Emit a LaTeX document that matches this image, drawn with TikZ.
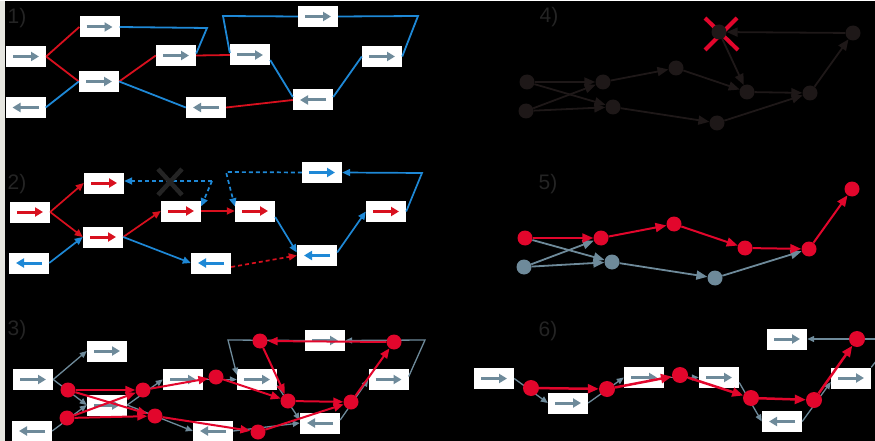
\documentclass[tikz,border=0pt]{standalone}
\usepackage{fontspec}
\setmainfont{Liberation Sans}
\usetikzlibrary{arrows.meta}
\definecolor{bl}{HTML}{1E88D6}
\definecolor{rd}{HTML}{D8101E}
\definecolor{gy}{HTML}{6E8A9A}
\definecolor{cr}{HTML}{E2062C}
\definecolor{dk}{HTML}{1E1818}
\definecolor{lbl}{HTML}{242424}
\definecolor{strip}{HTML}{E6E6E0}
\tikzset{
  box/.style={rectangle, fill=white, minimum width=40pt, minimum height=21pt, inner sep=0pt},
  inarrow/.style={line width=3pt, -{Triangle[length=8pt,width=9pt]}, #1},
  bxr/.style={box, path picture={\draw[inarrow=#1] ([xshift=-13pt]path picture bounding box.center) -- ([xshift=13pt]path picture bounding box.center);}},
  bxl/.style={box, path picture={\draw[inarrow=#1] ([xshift=13pt]path picture bounding box.center) -- ([xshift=-13pt]path picture bounding box.center);}},
  lone/.style={line width=1.8pt},
  ltwo/.style={line width=1.7pt, -{Triangle[length=8pt,width=7pt]}},
  dashedline/.style={dash pattern=on 4pt off 3pt},
  lgray/.style={line width=1.3pt, gy, -{Triangle[length=7pt,width=6pt]}},
  lred/.style={line width=2pt, cr, -{Triangle[length=10pt,width=8pt]}},
  ldark/.style={line width=1.8pt, dk, -{Triangle[length=11pt,width=9pt]}},
  dot/.style={circle, inner sep=0pt, minimum size=15pt, fill=#1},
  plabel/.style={text=lbl, font=\fontsize{21}{21}\selectfont, inner sep=0pt}
}
\begin{document}
\begin{tikzpicture}[x=1pt,y=-1pt]
\useasboundingbox (0,0) rectangle (875,441);
\fill[black] (0,0) rectangle (875,441);
\fill[strip] (0,0) rectangle (5,441);
\fill[white] (0,0) rectangle (875,1.5);

% ---------------- panel labels
\node[plabel] (L1) at (17,18) {1)};
\node[plabel] (L2) at (17,184) {2)};
\node[plabel] (L3) at (17,330) {3)};
\node[plabel] (L4) at (549,17) {4)};
\node[plabel] (L5) at (548,184) {5)};
\node[plabel] (L6) at (548,331) {6)};

% ---------------- panel 1
\node[bxr=gy] (A1) at (26,56.5) {};
\node[bxl=gy] (B1) at (25.5,107.5) {};
\node[bxr=gy] (C1) at (99.5,27) {};
\node[bxr=gy] (D1) at (99,81.5) {};
\node[bxr=gy] (E1) at (176,55.5) {};
\node[bxl=gy] (F1) at (206,107.5) {};
\node[bxr=gy] (G1) at (250,55) {};
\node[bxr=gy] (H1) at (318,16.5) {};
\node[bxl=gy] (I1) at (313,100) {};
\node[bxr=gy] (J1) at (382,56.5) {};
\coordinate (c1a) at (207,28);
\coordinate (c1b) at (223,16);
\coordinate (c1c) at (418,16);
\draw[lone,rd] (A1.east) -- (C1.west);
\draw[lone,rd] (A1.east) -- (D1.west);
\draw[lone,rd] (D1.east) -- (E1.west);
\draw[lone,rd] (E1.east) -- (G1.west);
\draw[lone,rd] (F1.east) -- (I1.west);
\draw[lone,bl] (B1.east) -- (D1.west);
\draw[lone,bl] (C1.east) -- (c1a) -- ([yshift=2pt]E1.east);
\draw[lone,bl] (D1.east) -- (F1.west);
\draw[lone,bl] ([yshift=2pt]G1.west) -- (c1b) -- (H1.west);
\draw[lone,bl] (H1.east) -- (c1c) -- (J1.east);
\draw[lone,bl] ([yshift=-5pt]G1.east) -- ([yshift=3pt]I1.west);
\draw[lone,bl] ([yshift=3pt]I1.east) -- (J1.west);

% ---------------- panel 2
\node[bxr=rd] (A2) at (30,212) {};
\node[bxl=bl] (B2) at (29,263) {};
\node[bxr=rd] (C2) at (104,183) {};
\node[bxr=rd] (D2) at (103,237) {};
\node[bxr=rd] (E2) at (181,211) {};
\node[bxl=bl] (F2) at (211,263) {};
\node[bxr=rd] (G2) at (255,211) {};
\node[bxr=bl] (H2) at (322,172.5) {};
\node[bxl=bl] (I2) at (317,255.5) {};
\node[bxr=rd] (J2) at (386,211.5) {};
\coordinate (c2a) at (422,173);
\coordinate (c2b) at (226,172);
\coordinate (c2c) at (212,181);
\draw[ltwo,rd] (A2.east) -- (C2.west);
\draw[ltwo,rd] (A2.east) -- (D2.west);
\draw[ltwo,bl] (B2.east) -- (D2.west);
\draw[ltwo,rd] (D2.east) -- (E2.west);
\draw[ltwo,bl] (D2.east) -- (F2.west);
\draw[ltwo,rd] (E2.east) -- (G2.west);
\draw[ltwo,rd,dashedline] ([yshift=-4pt]F2.east) -- (I2.west);
\draw[ltwo,bl] ([yshift=-6pt]G2.east) -- ([yshift=3pt]I2.west);
\draw[ltwo,bl] ([yshift=3pt]I2.east) -- (J2.west);
\draw[ltwo,bl] (J2.east) -- (c2a) -- (H2.east);
\draw[ltwo,bl,dashedline] (H2.west) -- (c2b) -- ([yshift=-6pt]G2.north west);
\draw[ltwo,bl,dashedline] (c2c) -- ([yshift=2pt]C2.east);
\draw[ltwo,bl,dashedline] (c2c) -- ([yshift=-6pt]E2.north east);
\draw[line width=4.5pt, lbl] (158,169) -- (182,195) (182,169) -- (158,195);

% ---------------- panel 3
\node[bxr=gy] (A3) at (33,379.5) {};
\node[bxl=gy] (B3) at (32,431) {};
\node[bxr=gy] (C3) at (107,351) {};
\node[bxr=gy] (D3) at (107,405) {};
\node[bxr=gy] (E3) at (183,379.5) {};
\node[bxl=gy] (F3) at (213,431) {};
\node[bxr=gy] (G3) at (257,379.5) {};
\node[bxr=gy] (H3) at (325,340.5) {};
\node[bxl=gy] (I3) at (320,423) {};
\node[bxr=gy] (J3) at (388.5,379.5) {};
\coordinate (c3a) at (228,340);
\coordinate (c3b) at (425,340);
\draw[lgray] (A3.east) -- (C3.west);
\draw[lgray] (A3.east) -- (D3.west);
\draw[lgray] (B3.east) -- (D3.west);
\draw[lgray] (D3.east) -- (E3.west);
\draw[lgray] (D3.east) -- (F3.west);
\draw[lgray] (E3.east) -- (G3.west);
\draw[lgray] ([yshift=-6pt]G3.east) -- ([yshift=3pt]I3.west);
\draw[lgray] (F3.east) -- (I3.west);
\draw[lgray] ([yshift=3pt]I3.east) -- (J3.west);
\draw[lgray] (H3.west) -- (c3a) -- ([yshift=-6pt]G3.north west);
\draw[lgray] ([yshift=3pt]J3.east) -- (c3b) -- (H3.east);
\node[dot=cr] (r1) at (68,390) {};
\node[dot=cr] (r2) at (67,418) {};
\node[dot=cr] (r3) at (143,390) {};
\node[dot=cr] (r4) at (155,416) {};
\node[dot=cr] (r5) at (216,377) {};
\node[dot=cr] (r6) at (258,432) {};
\node[dot=cr] (r7) at (260,341) {};
\node[dot=cr] (r8) at (288,401) {};
\node[dot=cr] (r9) at (351,402) {};
\node[dot=cr] (r10) at (394,342) {};
\draw[lred] (r1) -- (r3);
\draw[lred] (r1) -- (r4);
\draw[lred] (r2) -- (r3);
\draw[lred] (r2) -- (r4);
\draw[lred] (r3) -- (r5);
\draw[lred] (r4) -- (r6);
\draw[lred] (r5) -- (r8);
\draw[lred] (r6) -- (r9);
\draw[lred] (r8) -- (r9);
\draw[lred] (r9) -- (r10);
\draw[lred] (r10) -- (r7);
\draw[lred] (r7) -- (r8);

% ---------------- panel 4
\draw[line width=4pt, cr] (705,18) -- (738,50) (737,18) -- (705,50);
\node[dot=dk] (n1) at (527,82) {};
\node[dot=dk] (n2) at (526,111) {};
\node[dot=dk] (n3) at (603,82) {};
\node[dot=dk] (n4) at (613,107) {};
\node[dot=dk] (n5) at (676,68) {};
\node[dot=dk] (n6) at (717,123) {};
\node[dot=dk] (n7) at (719,32) {};
\node[dot=dk] (n8) at (747,92) {};
\node[dot=dk] (n9) at (810,93) {};
\node[dot=dk] (n10) at (853,33) {};
\draw[ldark] (n1) -- (n3);
\draw[ldark] (n1) -- (n4);
\draw[ldark] (n2) -- (n3);
\draw[ldark] (n2) -- (n4);
\draw[ldark] (n3) -- (n5);
\draw[ldark] (n4) -- (n6);
\draw[ldark] (n5) -- (n8);
\draw[ldark] (n6) -- (n9);
\draw[ldark] (n8) -- (n9);
\draw[ldark] (n9) -- (n10);
\draw[ldark] (n10) -- (n7);
\draw[ldark] (n7) -- (n8);

% ---------------- panel 5
\node[dot=cr] (m1) at (525,238) {};
\node[dot=gy] (m2) at (524,267) {};
\node[dot=cr] (m3) at (601,238) {};
\node[dot=gy] (m4) at (612,262) {};
\node[dot=cr] (m5) at (674,224) {};
\node[dot=gy] (m6) at (715,278) {};
\node[dot=cr] (m8) at (745,248) {};
\node[dot=cr] (m9) at (809,249) {};
\node[dot=cr] (m10) at (852,189) {};
\draw[lgray,line width=1.8pt,-{Triangle[length=11pt,width=9pt]}] (m1) -- (m4);
\draw[lgray,line width=1.8pt,-{Triangle[length=11pt,width=9pt]}] (m2) -- (m3);
\draw[lgray,line width=1.8pt,-{Triangle[length=11pt,width=9pt]}] (m2) -- (m4);
\draw[lgray,line width=1.8pt,-{Triangle[length=11pt,width=9pt]}] (m4) -- (m6);
\draw[lgray,line width=1.8pt,-{Triangle[length=11pt,width=9pt]}] (m6) -- (m9);
\draw[lred,-{Triangle[length=11pt,width=9pt]}] (m1) -- (m3);
\draw[lred,-{Triangle[length=11pt,width=9pt]}] (m3) -- (m5);
\draw[lred,-{Triangle[length=11pt,width=9pt]}] (m5) -- (m8);
\draw[lred,-{Triangle[length=11pt,width=9pt]}] (m8) -- (m9);
\draw[lred,-{Triangle[length=11pt,width=9pt]}] (m9) -- (m10);

% ---------------- panel 6
\node[bxr=gy] (a6) at (494,378.5) {};
\node[bxr=gy] (b6) at (568,403) {};
\node[bxr=gy] (c6) at (644,377.5) {};
\node[bxr=gy] (d6) at (719,377.5) {};
\node[bxl=gy] (e6) at (782,421.5) {};
\node[bxr=gy] (f6) at (787,339) {};
\node[bxr=gy] (g6) at (851,378) {};
\coordinate (c6a) at (877,339);
\coordinate (c6b) at (877,360);
\draw[lgray] (a6.east) -- (b6.west);
\draw[lgray] (b6.east) -- (c6.west);
\draw[lgray] (c6.east) -- (d6.west);
\draw[lgray] ([yshift=-5pt]d6.east) -- (e6.west);
\draw[lgray] (e6.east) -- ([yshift=-4pt]g6.west);
\draw[lgray,-] (g6.north east) -- (c6b);
\draw[lgray] (c6a) -- (f6.east);
\node[dot=cr,minimum size=16pt] (p1) at (531,388) {};
\node[dot=cr,minimum size=16pt] (p2) at (607,389) {};
\node[dot=cr,minimum size=16pt] (p3) at (680,375) {};
\node[dot=cr,minimum size=16pt] (p4) at (751,398) {};
\node[dot=cr,minimum size=16pt] (p5) at (814,400) {};
\node[dot=cr,minimum size=16pt] (p6) at (857,339) {};
\draw[lred,line width=2.5pt,-{Triangle[length=11pt,width=9pt]}] (p1) -- (p2);
\draw[lred,line width=2.5pt,-{Triangle[length=11pt,width=9pt]}] (p2) -- (p3);
\draw[lred,line width=2.5pt,-{Triangle[length=11pt,width=9pt]}] (p3) -- (p4);
\draw[lred,line width=2.5pt,-{Triangle[length=11pt,width=9pt]}] (p4) -- (p5);
\draw[lred,line width=2.5pt,-{Triangle[length=11pt,width=9pt]}] (p5) -- (p6);
\end{tikzpicture}
\end{document}
